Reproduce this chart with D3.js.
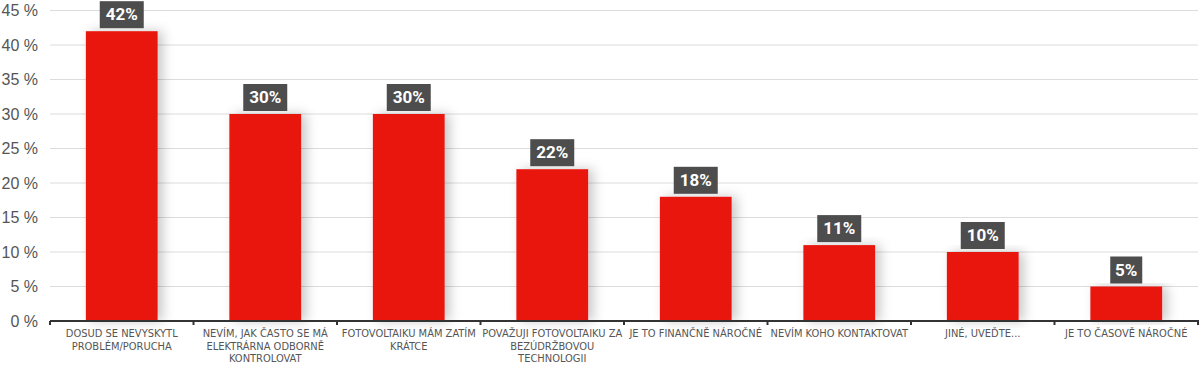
<!DOCTYPE html>
<html>
<head>
<meta charset="utf-8">
<script src="https://cdn.jsdelivr.net/npm/d3@7"></script>
<style>
body { margin: 0; background: #fff; }
</style>
</head>
<body>
<script>
var categories = [
  "DOSUD SE NEVYSKYTL PROBLÉM/PORUCHA",
  "NEVÍM, JAK ČASTO SE MÁ ELEKTRÁRNA ODBORNĚ KONTROLOVAT",
  "FOTOVOLTAIKU MÁM ZATÍM KRÁTCE",
  "POVAŽUJI FOTOVOLTAIKU ZA BEZÚDRŽBOVOU TECHNOLOGII",
  "JE TO FINANČNĚ NÁROČNÉ",
  "NEVÍM KOHO KONTAKTOVAT",
  "JINÉ, UVEĎTE...",
  "JE TO ČASOVĚ NÁROČNÉ"
];
var values = [42, 30, 30, 22, 18, 11, 10, 5];
var yTicks = [0, 5, 10, 15, 20, 25, 30, 35, 40, 45];

var width = 1200, height = 366;
var margin = {left: 50, right: 2, top: 10, bottom: 45};

var svg = d3.select("body").append("svg")
  .attr("width", width)
  .attr("height", height);

var defs = svg.append("defs");
var f = defs.append("filter").attr("id", "shadow")
  .attr("x", "-50%").attr("y", "-10%").attr("width", "200%").attr("height", "120%");
f.append("feDropShadow")
  .attr("dx", 5).attr("dy", 0)
  .attr("stdDeviation", 6)
  .attr("flood-color", "#000")
  .attr("flood-opacity", 0.22);

var x = d3.scaleBand()
  .domain(categories)
  .range([margin.left, width - margin.right])
  .paddingInner(0.5)
  .paddingOuter(0.25);

var y = d3.scaleLinear()
  .domain([0, 45])
  .range([height - margin.bottom, margin.top + 0.5]);

// gridlines
svg.append("g")
  .selectAll("line")
  .data(yTicks.slice(1))
  .join("line")
  .attr("x1", margin.left)
  .attr("x2", width - margin.right)
  .attr("y1", d => y(d))
  .attr("y2", d => y(d))
  .attr("stroke", "#dcdcdc")
  .attr("stroke-width", 1);

// y labels
svg.append("g")
  .selectAll("text")
  .data(yTicks)
  .join("text")
  .attr("x", 38)
  .attr("y", d => y(d))
  .attr("dy", "0.35em")
  .attr("text-anchor", "end")
  .style("font-family", "'Liberation Sans', Arial, sans-serif")
  .style("font-size", "16px")
  .style("fill", "#555")
  .text(d => d + " %");

// bars
svg.append("g")
  .selectAll("rect")
  .data(values)
  .join("rect")
  .attr("x", (d, i) => x(categories[i]))
  .attr("y", d => y(d))
  .attr("width", x.bandwidth())
  .attr("height", d => y(0) - y(d))
  .attr("fill", "#e8190f")
  .attr("filter", "url(#shadow)");

// x axis
var xAxis = d3.axisBottom(x).tickSize(0).tickFormat("");
var axG = svg.append("g")
  .attr("transform", "translate(0," + y(0) + ")")
  .call(xAxis);
axG.select(".domain").remove();
axG.append("line")
  .attr("x1", margin.left).attr("x2", width - 1)
  .attr("stroke", "#333").attr("stroke-width", 2);
var step = x.step();
axG.selectAll(".sep")
  .data(d3.range(categories.length + 1))
  .join("line")
  .attr("class", "sep")
  .attr("x1", i => margin.left + i * step)
  .attr("x2", i => margin.left + i * step)
  .attr("y1", 0).attr("y2", 4)
  .attr("stroke", "#333").attr("stroke-width", 2);

// category labels with wrap
function wrap(text, w) {
  text.each(function() {
    var t = d3.select(this);
    var words = t.text().split(/\s+/);
    var line = [], lineNo = 0;
    var xx = t.attr("x"), yy = t.attr("y");
    t.text(null);
    var ts = t.append("tspan").attr("x", xx).attr("y", yy);
    words.forEach(function(word) {
      line.push(word);
      ts.text(line.join(" "));
      if (ts.node().getComputedTextLength() > w && line.length > 1) {
        line.pop();
        ts.text(line.join(" "));
        line = [word];
        lineNo++;
        ts = t.append("tspan").attr("x", xx).attr("y", +yy + lineNo * 12.5).text(word);
      }
    });
  });
}

svg.append("g")
  .selectAll("text")
  .data(categories)
  .join("text")
  .attr("x", d => x(d) + x.bandwidth() / 2)
  .attr("y", y(0) + 16)
  .attr("text-anchor", "middle")
  .style("font-family", "'Liberation Sans Narrow', 'DejaVu Sans Condensed', sans-serif")
  .style("font-size", "11px")
  .style("fill", "#555")
  .text(d => d)
  .call(wrap, step + 8);

// value labels
var lab = svg.append("g")
  .selectAll("g")
  .data(values)
  .join("g")
  .attr("transform", (d, i) => "translate(" + (x(categories[i]) + x.bandwidth() / 2) + "," + (y(d) - 17) + ")");

lab.append("rect")
  .attr("x", d => d >= 10 ? -22 : -16)
  .attr("y", -13)
  .attr("width", d => d >= 10 ? 44 : 32)
  .attr("height", 27)
  .attr("fill", "#4d4d4d");

lab.append("text")
  .attr("text-anchor", "middle")
  .attr("dy", "0.36em")
  .style("font-family", "Roboto, 'Liberation Sans', sans-serif")
  .style("font-weight", "bold")
  .style("font-size", "17px")
  .style("fill", "#fff")
  .text(d => d + "%");
</script>
</body>
</html>
